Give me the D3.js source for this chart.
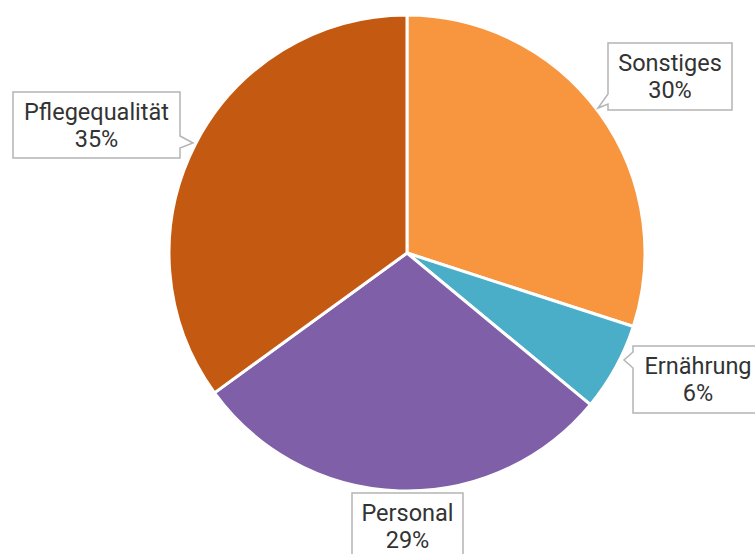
<!DOCTYPE html>
<html>
<head>
<meta charset="utf-8">
<script src="https://cdn.jsdelivr.net/npm/d3@7"></script>
<style>
  body { margin: 0; background: #fff; }
  svg { display: block; font-family: Roboto, "Noto Sans", sans-serif; }
</style>
</head>
<body>
<div id="chart"></div>
<script>
// slices, clockwise from 12 o'clock
let categories = ["Sonstiges", "Ernährung", "Personal", "Pflegequalität"]
let values = [30, 6, 29, 35]
let colors = ["#f8963f", "#4aaec8", "#7f5fa8", "#c45a12"]

let width = 755
let height = 554
let cx = 407
let cy = 253
let radius = 238

// callout boxes: x, y, w, h, side of tab, tab edge start/end, tip
let callouts = [
    { x: 608, y: 43, w: 124, h: 67, side: "left", t1: 94, t2: 104, tip: [598, 108] },
    { x: 633, y: 346, w: 130, h: 67, side: "left", t1: 352, t2: 368, tip: [624, 360] },
    { x: 352, y: 493, w: 111, h: 70, side: "top", t1: 0, t2: 0, tip: null },
    { x: 13, y: 92, w: 167, h: 66, side: "right", t1: 136, t2: 148, tip: [193, 143] }
]

let svg = d3.select("#chart")
    .append("svg")
    .attr("width", width)
    .attr("height", height)

let pie = d3.pie()
    .value(d => d)
    .sort(null)

let arc = d3.arc()
    .innerRadius(0)
    .outerRadius(radius)

let g = svg.append("g")
    .attr("transform", "translate(" + cx + "," + cy + ")")

g.selectAll("path")
    .data(pie(values))
    .enter()
    .append("path")
    .attr("d", arc)
    .attr("fill", (d, i) => colors[i])
    .attr("stroke", "#fff")
    .attr("stroke-width", 3)
    .attr("stroke-linejoin", "round")

function calloutPath(c) {
    let x0 = c.x, y0 = c.y, x1 = c.x + c.w, y1 = c.y + c.h
    let p = d3.path()
    p.moveTo(x0, y0)
    p.lineTo(x1, y0)
    if (c.side == "right") {
        p.lineTo(x1, c.t1)
        p.lineTo(c.tip[0], c.tip[1])
        p.lineTo(x1, c.t2)
    }
    p.lineTo(x1, y1)
    p.lineTo(x0, y1)
    if (c.side == "left") {
        p.lineTo(x0, c.t2)
        p.lineTo(c.tip[0], c.tip[1])
        p.lineTo(x0, c.t1)
    }
    p.closePath()
    return p.toString()
}

let labels = svg.selectAll(".callout")
    .data(categories)
    .enter()
    .append("g")
    .attr("class", "callout")

labels.append("path")
    .attr("d", (d, i) => calloutPath(callouts[i]))
    .attr("fill", "#fff")
    .attr("stroke", "#b4b4b4")
    .attr("stroke-width", 1.5)

labels.append("text")
    .attr("x", (d, i) => callouts[i].x + callouts[i].w / 2)
    .attr("y", (d, i) => callouts[i].y + 28)
    .attr("text-anchor", "middle")
    .attr("font-size", 23.5)
    .attr("fill", "#333")
    .text(d => d)

labels.append("text")
    .attr("x", (d, i) => callouts[i].x + callouts[i].w / 2)
    .attr("y", (d, i) => callouts[i].y + 55)
    .attr("text-anchor", "middle")
    .attr("font-size", 23.5)
    .attr("fill", "#333")
    .text((d, i) => values[i] + "%")
</script>
</body>
</html>
